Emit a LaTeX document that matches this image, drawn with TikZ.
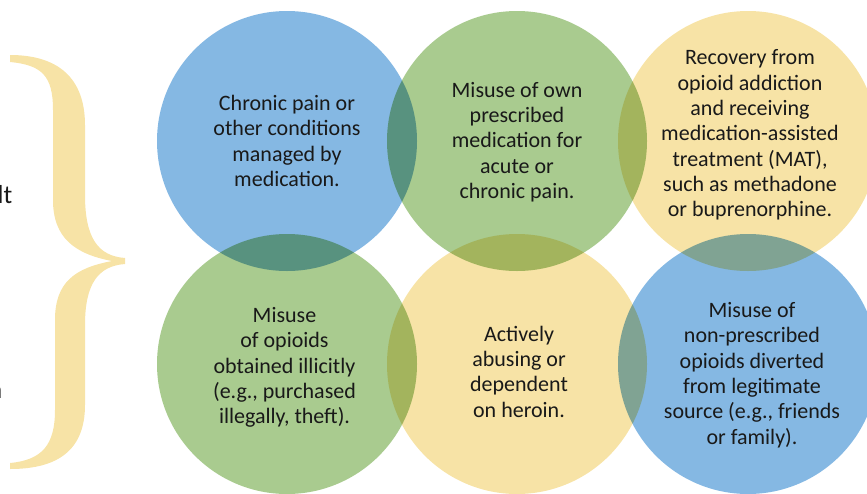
\documentclass[tikz,border=0pt]{standalone}
\usepackage{fontspec}
\setmainfont{Carlito}
\usetikzlibrary{positioning}

\definecolor{bubbleblue}{RGB}{133,184,227}
\definecolor{bubblegreen}{RGB}{169,203,143}
\definecolor{bubbleyellow}{RGB}{247,227,166}

\begin{document}
\begin{tikzpicture}[
        x                   = 1pt,
        y                   = -1pt,
        bubble/.style       = {circle, minimum size=260pt, inner sep=0pt},
        caption/.style      = {align=center, inner sep=0pt, text=black!90,
                               font=\fontsize{22}{25.3}\selectfont},
        sidetext/.style     = {inner sep=0pt, anchor=base east, text=black!90,
                               font=\fontsize{26}{30}\selectfont},
    ]
    \useasboundingbox (0,0) rectangle (867,493);
    \clip (0,0) rectangle (867,493);

    % cut-off text on the left
    \node[sidetext] (leftword) at (12.5,203) {lt};
    \node[sidetext] (leftword2) at (2.5,398) {n};

    % the big brace
    \fill[bubbleyellow]
        (10,55) .. controls (58,55) and (85,78) .. (85,125) -- (85,195)
        .. controls (85,238) and (98,256) .. (125,258) -- (125,264)
        .. controls (98,266) and (85,284) .. (85,325) -- (85,405)
        .. controls (85,450) and (58,469) .. (10,469) -- (10,463)
        .. controls (42,460) and (55,445) .. (55,410) -- (55,320)
        .. controls (55,282) and (75,268) .. (112,261)
        .. controls (75,254) and (53,238) .. (53,200) -- (53,110)
        .. controls (53,76) and (42,65) .. (10,62) -- cycle;

    % overlapping circles
    \begin{scope}[blend mode=multiply]
        \node[bubble, fill=bubbleblue]   (chronic)  at (287,141) {};
        \node[bubble, fill=bubblegreen]  (ownuse)   at (517,141) {};
        \node[bubble, fill=bubbleyellow] (recovery) at (748,141) {};
        \node[bubble, fill=bubblegreen]  (illicit)  at (287,364) {};
        \node[bubble, fill=bubbleyellow] (heroin)   at (517,364) {};
        \node[bubble, fill=bubbleblue]   (diverted) at (748,364) {};
    \end{scope}

    % texts
    \node[caption] (chronic-txt) at (chronic.center)
        {Chronic pain or\\other conditions\\managed by\\medication.};
    \node[caption] (ownuse-txt) at ([yshift=-1pt]ownuse.center)
        {Misuse of own\\prescribed\\medication for\\acute or\\chronic pain.};
    \node[caption] (recovery-txt) at ([xshift=2pt, yshift=6pt]recovery.center)
        {Recovery from\\opioid addiction\\and receiving\\medication-assisted\\treatment (MAT),\\such as methadone\\or buprenorphine.};
    \node[caption] (illicit-txt) at ([xshift=-2.5pt, yshift=-3.5pt]illicit.center)
        {Misuse\\of opioids\\obtained illicitly\\(e.g., purchased\\illegally, theft).};
    \node[caption] (heroin-txt) at ([xshift=2pt, yshift=-7.5pt]heroin.center)
        {Actively\\abusing or\\dependent\\on heroin.};
    \node[caption] (diverted-txt) at ([xshift=4pt, yshift=-11pt]diverted.center)
        {Misuse of\\non-prescribed\\opioids diverted\\from legitimate\\source (e.g., friends\\or family).};
\end{tikzpicture}
\end{document}
